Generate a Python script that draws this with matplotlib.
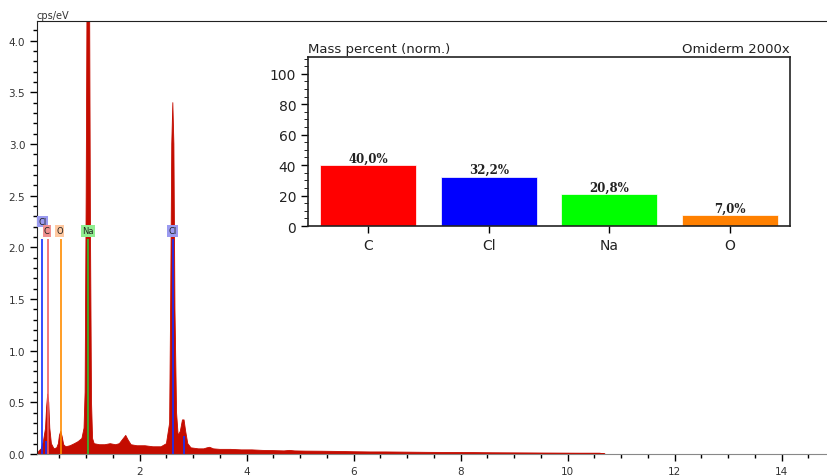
import matplotlib.pyplot as plt

# spectrum (keV, cps/eV)
energy = [0.08, 0.12, 0.16, 0.20, 0.24, 0.26, 0.28, 0.30, 0.32, 0.35, 0.40, 0.45, 0.48, 0.50,
          0.525, 0.55, 0.58, 0.62, 0.70, 0.78, 0.85, 0.92, 0.96, 0.98, 1.00, 1.015, 1.04, 1.065,
          1.08, 1.10, 1.12, 1.15, 1.25, 1.35, 1.45, 1.55, 1.62, 1.68, 1.74, 1.78, 1.84, 1.95,
          2.10, 2.25, 2.40, 2.50, 2.56, 2.58, 2.60, 2.62, 2.64, 2.66, 2.69, 2.72, 2.76, 2.80,
          2.83, 2.86, 2.90, 2.96, 3.10, 3.20, 3.26, 3.31, 3.38, 3.50, 3.70, 3.90, 4.10, 4.30,
          4.50, 4.70, 4.80, 4.90, 5.10, 5.40, 5.70, 6.00, 6.30, 6.60, 7.00, 7.40, 7.80, 8.20,
          8.60, 9.00, 9.40, 9.80, 10.20, 10.60, 10.70]
cps = [0.00, 0.03, 0.05, 0.12, 0.25, 0.45, 0.58, 0.50, 0.25, 0.10, 0.05, 0.06, 0.10, 0.18,
       0.22, 0.17, 0.09, 0.07, 0.08, 0.10, 0.12, 0.15, 0.25, 0.60, 2.50, 4.30, 5.00, 4.30,
       2.20, 0.50, 0.15, 0.10, 0.09, 0.09, 0.10, 0.09, 0.10, 0.14, 0.18, 0.14, 0.09, 0.08,
       0.08, 0.07, 0.07, 0.10, 0.30, 1.50, 3.00, 3.40, 3.00, 1.40, 0.40, 0.18, 0.22, 0.33,
       0.33, 0.22, 0.10, 0.06, 0.05, 0.05, 0.06, 0.065, 0.05, 0.045, 0.045, 0.04, 0.04, 0.035,
       0.033, 0.03, 0.035, 0.03, 0.028, 0.027, 0.025, 0.022, 0.02, 0.02, 0.018, 0.016, 0.015, 0.014,
       0.012, 0.011, 0.010, 0.009, 0.008, 0.008, 0.0]

# element marker lines
line_e = [0.18, 0.24, 0.277, 0.525, 1.04, 2.62, 2.82]
line_h = [2.08, 0.13, 2.08, 2.08, 2.08, 2.08, 0.17]
line_c = ['#1030ff', '#1030ff', '#f06060', '#ff8c00', '#30c030', '#1030ff', '#1030ff']

# marker labels
lab_txt = ['Cl', 'C', 'O', 'Na', 'Cl']
lab_e = [0.18, 0.265, 0.50, 1.03, 2.62]
lab_y = [2.25, 2.16, 2.16, 2.16, 2.16]
lab_c = ['#9a9af0', '#f09090', '#ffc8a0', '#90ee90', '#9a9af0']

# mass percent inset
elements = ['C', 'Cl', 'Na', 'O']
mass = [40.0, 32.2, 20.8, 7.0]
mass_lbl = ['40,0%', '32,2%', '20,8%', '7,0%']
bar_c = ['#ff0000', '#0000ff', '#00ff00', '#ff8000']

fig = plt.figure(figsize=(8.27, 4.77), dpi=100)
ax = fig.add_axes([0.0447, 0.0461, 0.9553, 0.9078])
ax.fill_between(energy, cps, 0, color='#c40c00', lw=0.6, edgecolor='#c40c00')
ax.vlines(line_e, 0, line_h, colors=line_c, lw=1.2, zorder=3)
for t, e, y, c in zip(lab_txt, lab_e, lab_y, lab_c):
    ax.text(e, y, t, ha='center', va='center', fontsize=6, color='#222',
            bbox=dict(boxstyle='square,pad=0.15', fc=c, ec='none'), zorder=4)

ax.set_xlim(0.08, 14.85)
ax.set_ylim(0, 4.19)
ax.set_xticks([2, 4, 6, 8, 10, 12, 14])
ax.set_xticks([x * 0.5 for x in range(1, 30)], minor=True)
ax.set_yticks([0, 0.5, 1.0, 1.5, 2.0, 2.5, 3.0, 3.5, 4.0])
ax.set_yticks([y * 0.1 for y in range(42)], minor=True)
ax.yaxis.set_major_formatter(plt.FormatStrFormatter('%.1f'))
ax.tick_params(labelsize=7.5, labelcolor='#333', length=5, width=1, direction='out')
ax.tick_params(which='minor', length=3, width=1)
for s in ax.spines.values():
    s.set_color('#222')
ax.spines['bottom'].set_color('#888')
ax.spines['right'].set_visible(False)
ax.text(0.0, 1.003, 'cps/eV', transform=ax.transAxes, fontsize=7, color='#333', va='bottom')
ax.text(0.497, -0.057, 'keV', transform=ax.transAxes, fontsize=6,
        color='#333', va='top', ha='center')

# inset bar chart
ins = fig.add_axes([0.3724, 0.5241, 0.5829, 0.3543])
pos = list(range(len(elements)))
ins.bar(pos, mass, width=0.8, color=bar_c, edgecolor='white', lw=0.5)
for p, v, t in zip(pos, mass, mass_lbl):
    ins.text(p, v + 0.5, t, ha='center', va='bottom', fontsize=8.5, fontweight='bold',
             family='DejaVu Serif', color='#222')
ins.set_xlim(-0.5, 3.5)
ins.set_ylim(0, 111)
ins.set_xticks(pos)
ins.set_xticklabels(elements)
ins.set_yticks([0, 20, 40, 60, 80, 100])
ins.set_yticks(list(range(0, 111, 5)), minor=True)
ins.tick_params(labelsize=10, labelcolor='#222', length=5, width=1)
ins.tick_params(which='minor', length=3)
for s in ins.spines.values():
    s.set_color('#222')
    s.set_linewidth(1.2)
ins.text(0.0, 1.01, 'Mass percent (norm.)', transform=ins.transAxes, fontsize=9.5,
         color='#222', va='bottom', ha='left')
ins.text(1.0, 1.01, 'Omiderm 2000x', transform=ins.transAxes, fontsize=9.5,
         color='#222', va='bottom', ha='right')

fig.savefig('out.png', dpi=100)
